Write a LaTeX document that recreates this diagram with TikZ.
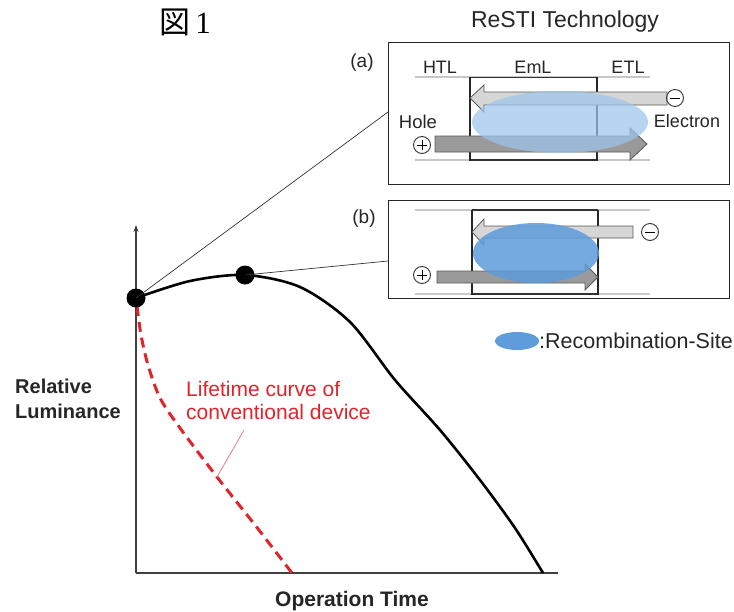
\documentclass[tikz,border=0pt]{standalone}
\usepackage{fontspec}
\setmainfont{Liberation Sans}
\newfontfamily\cjk{Noto Sans CJK JP}
\newfontfamily\sernum{Liberation Serif}
\usetikzlibrary{shapes.geometric,arrows.meta}
\definecolor{lbl}{HTML}{262626}
\definecolor{elgray}{HTML}{D6D6D6}
\definecolor{hogray}{HTML}{9A9A9A}
\definecolor{blueA}{HTML}{9CC6EC}
\definecolor{blueB}{HTML}{5E9CDB}
\definecolor{redc}{HTML}{E0242C}
\tikzset{
  fs/.style={font=\fontsize{#1}{#1}\selectfont},
  txt/.style={text=lbl, inner sep=0pt},
  panel/.style={draw=black!85, line width=1.2pt, anchor=north west, inner sep=0pt},
  layer/.style={line width=1.6pt, draw=black!85},
  faint/.style={line width=1.4pt, draw=black!22},
  elarrow/.style={fill=elgray, draw=black!65, line width=0.8pt},
  hoarrow/.style={fill=hogray, draw=black!65, line width=0.8pt},
  charge/.style={circle, draw=black!80, line width=0.9pt, minimum size=17pt, inner sep=0pt},
  dot/.style={circle, fill=black, inner sep=0pt, minimum size=19pt},
  leader/.style={line width=0.7pt, draw=black!80},
}
\newcommand{\plusin}[1]{\draw[line width=1pt] ([xshift=-5pt]#1.center) -- ([xshift=5pt]#1.center) ([yshift=-5pt]#1.center) -- ([yshift=5pt]#1.center);}
\newcommand{\minusin}[1]{\draw[line width=1pt] ([xshift=-5pt]#1.center) -- ([xshift=5pt]#1.center);}
\begin{document}
\begin{tikzpicture}[x=1pt,y=-1pt]
\useasboundingbox (0,0) rectangle (734,611);
\fill[white] (0,0) rectangle (734,611);

% titles
\node[inner sep=0pt, fs=31] (fig) at (185,22) {{\cjk 図}\,{\sernum 1}};
\node[txt, fs=23] (title) at (565,22) {ReSTI Technology};

% panel (a)
\node[panel, minimum width=341pt, minimum height=142pt] (boxa) at (388,42) {};
\node[txt, fs=19] (la) at (362,63) {(a)};
\node[txt, fs=18] (htl) at (440,67) {HTL};
\node[txt, fs=18] (eml) at (533,67) {EmL};
\node[txt, fs=18] (etl) at (628,67) {ETL};
\draw[faint] (415,77) -- (650,77);
\draw[faint] (415,160) -- (650,160);
\draw[line width=0.8pt, draw=black!80] (470,77) -- (597,77);
\draw[line width=1.4pt, draw=black!80] (470,160) -- (597,160);
\draw[layer] (470,77) -- (470,161);
\draw[layer] (597,77) -- (597,161);
\filldraw[elarrow] (470,98) -- (484,85) -- (484,92) -- (667,92) -- (667,105) -- (484,105) -- (484,112) -- cycle;
\filldraw[hoarrow] (435,136) -- (630,136) -- (630,128) -- (647,144) -- (630,160) -- (630,152) -- (435,152) -- cycle;
\node[ellipse, fill=blueA, fill opacity=0.72, minimum width=176pt, minimum height=62pt, inner sep=0pt] (recA) at (560,122) {};
\node[charge] (ema) at (675,98) {};
\minusin{ema}
\node[charge] (hpa) at (422,145) {};
\plusin{hpa}
\node[txt, fs=18.5] (hole) at (418,122) {Hole};
\node[txt, fs=18] (elec) at (687,121) {Electron};

% panel (b)
\node[panel, minimum width=341pt, minimum height=98pt] (boxb) at (388,200) {};
\node[txt, fs=19] (lb) at (364,219) {(b)};
\draw[faint] (415,210) -- (650,210);
\draw[faint] (415,294) -- (650,294);
\draw[line width=1.4pt, draw=black!80] (472,210) -- (598,210);
\draw[line width=1.4pt, draw=black!80] (472,294) -- (598,294);
\draw[layer] (472,210) -- (472,295);
\draw[layer] (598,210) -- (598,295);
\filldraw[elarrow] (472,232) -- (484,219) -- (484,226) -- (633,226) -- (633,238) -- (484,238) -- (484,245) -- cycle;
\filldraw[hoarrow] (437,271) -- (585,271) -- (585,264) -- (598,277) -- (585,290) -- (585,283) -- (437,283) -- cycle;
\node[ellipse, fill=blueB, fill opacity=0.85, minimum width=126pt, minimum height=60pt, inner sep=0pt] (recB) at (536,253) {};
\node[charge] (emb) at (650,232) {};
\minusin{emb}
\node[charge] (hpb) at (422,275) {};
\plusin{hpb}

% legend
\node[ellipse, fill=blueB, minimum width=44pt, minimum height=18pt, inner sep=0pt] (leg) at (517,341) {};
\node[txt, fs=21.5, anchor=west] (legt) at (539,341) {:Recombination-Site};

% axes
\coordinate (orig) at (136,573);
\coordinate (ytop) at (136,225);
\coordinate (xend) at (558,573);
\draw[line width=1.1pt, draw=black!75, -{Stealth[length=7pt,width=5pt]}] (orig) -- (ytop);
\draw[line width=1.1pt, draw=black!75] (orig) -- (xend);

% curves
\draw[redc, line width=3pt, dash pattern=on 10pt off 6pt] plot[smooth] coordinates {(137,306) (141,335) (148,365) (160,398) (180,428) (217,477) (255,525) (292,573)};
\draw[line width=2.6pt] plot[smooth] coordinates {(136,298) (190,281) (245,275) (300,287) (350,322) (395,380) (440,430) (480,480) (515,528) (543,573)};

% dots
\node[dot] (d1) at (136,298) {};
\node[dot] (d2) at (245,275) {};
\draw[leader] (d1.center) -- (boxa.west |- 0,112);
\draw[leader] (d2.center) -- (boxb.west |- 0,261);

% red label
\node[text=redc, inner sep=0pt, fs=21, anchor=west] (red1) at (186,389) {Lifetime curve of};
\node[text=redc, inner sep=0pt, fs=21, anchor=west] (red2) at (186,412) {conventional device};
\coordinate (redpt) at (217,477);
\draw[redc!60, line width=0.8pt] (244,430) -- (redpt);

% axis labels
\node[txt, font=\bfseries\fontsize{20}{20}\selectfont, anchor=west] (yl1) at (15,386) {Relative};
\node[txt, font=\bfseries\fontsize{20}{20}\selectfont, anchor=west] (yl2) at (15,411) {Luminance};
\node[txt, font=\bfseries\fontsize{21}{21}\selectfont] (xl) at (352,601) {Operation Time};
\end{tikzpicture}
\end{document}
